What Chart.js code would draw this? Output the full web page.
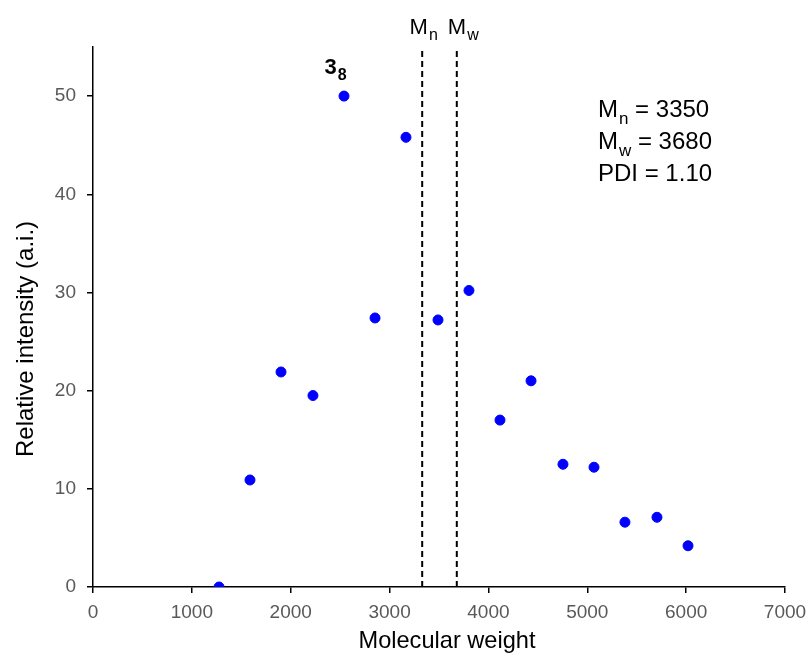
<!DOCTYPE html>
<html><head><meta charset="utf-8">
<script src="https://cdn.jsdelivr.net/npm/chart.js@4/dist/chart.umd.min.js"></script>
<style>html,body{margin:0;padding:0;background:#fff}#wrap{width:809px;height:656px}</style>
</head><body><div id="wrap"><canvas id="c" width="809" height="656"></canvas></div>
<script>
const molWeight = [1275, 1588, 1902, 2225, 2539, 2853, 3166, 3490, 3803, 4117, 4431, 4754, 5068, 5381, 5705, 6019];
const intensity = [0, 10.9, 21.9, 19.5, 50.0, 27.4, 45.8, 27.2, 30.2, 17.0, 21.0, 12.5, 12.2, 6.6, 7.1, 4.2];
const mnLine = 3330;
const mwLine = 3680;
const xTicks = [0, 1000, 2000, 3000, 4000, 5000, 6000, 7000];
const yTicks = [0, 10, 20, 30, 40, 50];
const xTitle = 'Molecular weight';
const yTitle = 'Relative intensity (a.i.)';
const FONT = "'Liberation Sans', Arial, sans-serif";

const points = molWeight.map((x, i) => ({x, y: intensity[i]}));

function subText(ctx, base, sub, x, y, size, subSize, weight, align) {
  ctx.font = `${weight} ${size}px ${FONT}`;
  const wb = ctx.measureText(base).width;
  ctx.font = `${weight} ${subSize}px ${FONT}`;
  const ws = ctx.measureText(sub).width;
  let x0 = x;
  if (align === 'center') x0 = x - (wb + ws) / 2;
  ctx.textAlign = 'left';
  ctx.textBaseline = 'alphabetic';
  ctx.font = `${weight} ${size}px ${FONT}`;
  ctx.fillText(base, x0, y);
  ctx.font = `${weight} ${subSize}px ${FONT}`;
  ctx.fillText(sub, x0 + wb + 1, y + size * 0.28);
  return x0 + wb + 1 + ws;
}

const textPlugin = {
  id: 'texts',
  afterDraw(chart) {
    const ctx = chart.ctx;
    const xs = chart.scales.x;
    ctx.save();
    ctx.fillStyle = '#000';
    subText(ctx, 'M', 'n', xs.getPixelForValue(mnLine) + 1, 34, 22, 16, 'normal', 'center');
    subText(ctx, 'M', 'w', xs.getPixelForValue(mwLine) + 6, 34, 22, 16, 'normal', 'center');
    subText(ctx, '3', '8', xs.getPixelForValue(2539) - 9, 74, 22, 16, 'bold', 'center');
    const lx = 598;
    const fs = 24, ss = 17;
    let end = subText(ctx, 'M', 'n', lx, 117, fs, ss, 'normal', 'left');
    ctx.font = `${fs}px ${FONT}`; ctx.fillText(' = 3350', end, 117);
    end = subText(ctx, 'M', 'w', lx, 149, fs, ss, 'normal', 'left');
    ctx.font = `${fs}px ${FONT}`; ctx.fillText(' = 3680', end, 149);
    ctx.fillText('PDI = 1.10', lx, 181);
    // axis titles
    ctx.textAlign = 'center';
    ctx.textBaseline = 'alphabetic';
    ctx.font = `23.6px ${FONT}`;
    ctx.fillText(xTitle, 447, 648);
    ctx.translate(33, 339);
    ctx.rotate(-Math.PI / 2);
    ctx.font = `24px ${FONT}`;
    ctx.fillText(yTitle, 0, 0);
    ctx.restore();
  }
};

new Chart(document.getElementById('c'), {
  type: 'scatter',
  data: {
    datasets: [
      {data: points, backgroundColor: '#0000FF', borderColor: '#0000FF', pointRadius: 5, pointHoverRadius: 5, order: 0},
      {type: 'line', data: [{x: mnLine, y: 0}, {x: mnLine, y: 54.7}], borderColor: '#000', borderWidth: 2, borderDash: [6, 4], pointRadius: 0, fill: false, order: 1},
      {type: 'line', data: [{x: mwLine, y: 0}, {x: mwLine, y: 54.7}], borderColor: '#000', borderWidth: 2, borderDash: [6, 4], pointRadius: 0, fill: false, order: 1}
    ]
  },
  options: {
    responsive: false,
    animation: false,
    events: [],
    layout: {padding: {top: 47, right: 24, left: 0, bottom: 0}},
    plugins: {legend: {display: false}, tooltip: {enabled: false}},
    scales: {
      x: {
        type: 'linear', min: 0, max: 7000,
        afterBuildTicks: s => { s.ticks = xTicks.map(v => ({value: v})); },
        afterFit: s => { s.height = 69; s.paddingLeft = 0; s.paddingRight = 0; },
        ticks: {color: '#595959', font: {family: FONT, size: 19}, padding: 8, maxRotation: 0, callback: v => String(v)},
        grid: {drawOnChartArea: false, drawTicks: true, tickLength: 6, color: '#000', lineWidth: 1.5},
        border: {display: true, color: '#000', width: 1.5},
        title: {display: false, text: xTitle}
      },
      y: {
        type: 'linear', min: 0, max: 55,
        afterBuildTicks: s => { s.ticks = yTicks.map(v => ({value: v})); },
        afterFit: s => { s.width = 93; s.paddingTop = 0; s.paddingBottom = 0; },
        ticks: {color: '#595959', font: {family: FONT, size: 19}, padding: 11, callback: v => String(v)},
        grid: {drawOnChartArea: false, drawTicks: true, tickLength: 6, color: '#000', lineWidth: 1.5},
        border: {display: true, color: '#000', width: 1.5},
        title: {display: false, text: yTitle}
      }
    }
  },
  plugins: [textPlugin]
});
</script></body></html>
